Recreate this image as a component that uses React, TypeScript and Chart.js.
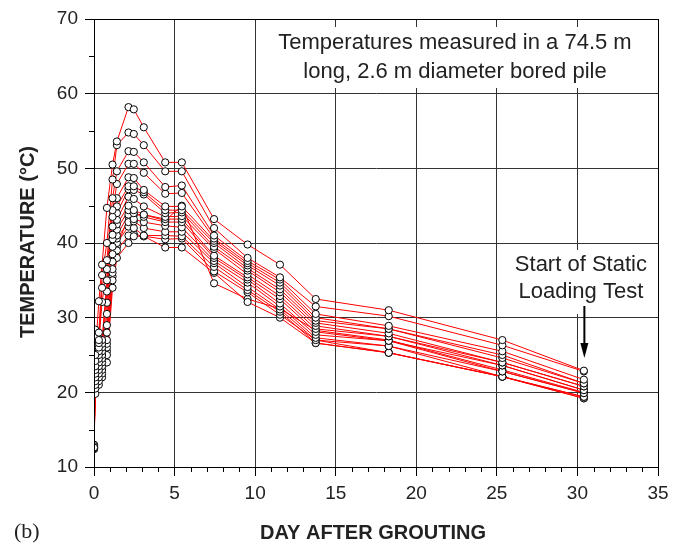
import React, { useEffect, useRef } from 'react';
import { Chart, registerables } from 'chart.js';

Chart.register(...registerables);

// Time of each reading (days after grouting)
const days = [0, 0.08, 0.3, 0.5, 0.8, 1.15, 1.42, 2.14, 2.47, 3.09, 4.42, 5.45, 7.45, 9.53, 11.54, 13.76, 18.29, 25.34, 30.4];

// Temperatures (°C) for each thermocouple level
const level01 = [12.6, 25.0, 32.2, 37.1, 44.7, 50.5, 53.6, 58.2, 57.9, 55.5, 50.8, 50.8, 43.2, 39.8, 37.1, 32.5, 31.0, 27.0, 22.9];
const level02 = [12.8, 24.2, 28.0, 35.7, 40.0, 48.5, 53.1, 54.8, 54.6, 53.1, 49.6, 49.6, 42.0, 38.0, 35.4, 31.5, 30.2, 26.3, 22.8];
const level03 = [12.5, 23.5, 27.0, 34.0, 37.7, 46.0, 49.6, 52.3, 52.2, 50.8, 47.5, 47.7, 41.0, 37.6, 35.1, 30.5, 28.9, 25.5, 21.7];
const level04 = [13.0, 28.4, 26.6, 32.1, 36.5, 44.4, 47.9, 50.6, 50.6, 49.4, 46.6, 46.7, 40.6, 37.3, 34.7, 30.0, 28.5, 25.0, 21.2];
const level05 = [12.4, 27.5, 26.0, 27.0, 35.0, 43.5, 46.0, 48.8, 48.7, 47.1, 44.9, 44.9, 40.3, 37.0, 34.3, 29.6, 28.5, 24.6, 21.2];
const level06 = [12.7, 26.5, 25.5, 26.5, 33.5, 42.2, 44.9, 47.6, 47.6, 46.8, 44.4, 44.4, 40.0, 36.6, 33.8, 29.3, 27.9, 24.0, 20.8];
const level07 = [12.9, 25.5, 25.0, 26.0, 32.0, 41.1, 44.0, 47.2, 47.1, 46.5, 44.0, 44.1, 39.5, 36.3, 33.4, 28.9, 27.5, 24.0, 20.8];
const level08 = [12.6, 24.8, 24.5, 25.5, 30.5, 40.5, 43.1, 46.2, 45.9, 44.9, 43.5, 43.6, 39.2, 35.8, 32.9, 28.5, 27.5, 23.6, 20.3];
const level09 = [12.5, 23.0, 24.0, 25.0, 29.0, 39.5, 42.5, 45.0, 44.4, 43.8, 43.2, 43.2, 38.3, 35.4, 32.5, 28.1, 26.9, 23.6, 20.3];
const level10 = [12.8, 22.5, 23.5, 24.5, 28.0, 38.5, 41.8, 44.4, 44.0, 43.5, 42.8, 42.8, 38.0, 35.1, 31.9, 27.7, 26.9, 22.8, 19.9];
const level11 = [12.4, 22.0, 23.0, 24.0, 27.0, 37.5, 41.0, 43.8, 43.2, 42.8, 42.3, 42.1, 37.6, 34.7, 31.5, 27.3, 26.2, 22.8, 19.9];
const level12 = [12.7, 21.5, 22.5, 23.5, 26.5, 36.5, 40.6, 42.8, 42.9, 42.0, 41.5, 41.5, 37.3, 34.1, 31.1, 27.0, 26.2, 22.1, 19.4];
const level13 = [12.6, 21.0, 22.0, 23.0, 26.0, 36.0, 40.0, 42.2, 42.0, 41.0, 41.0, 40.9, 36.8, 33.7, 30.8, 26.6, 25.3, 22.1, 19.4];
const level14 = [12.9, 20.5, 21.5, 22.5, 25.0, 35.0, 39.0, 41.0, 40.9, 40.9, 40.5, 40.6, 36.2, 33.4, 30.4, 27.0, 25.3, 22.1, 19.2];
const level15 = [12.5, 19.8, 21.0, 22.0, 24.0, 34.0, 38.0, 40.0, 41.2, 40.9, 39.4, 39.4, 36.0, 32.1, 30.0, 26.6, 25.3, 22.1, 19.2];
const level16 = [12.8, 24.0, 23.0, 24.0, 25.5, 35.5, 39.5, 43.5, 43.8, 43.8, 43.0, 45.0, 34.6, 32.5, 31.2, 28.3, 27.0, 23.0, 20.0];

const levels = [level01, level02, level03, level04, level05, level06, level07, level08,
  level09, level10, level11, level12, level13, level14, level15, level16];

const xMin = 0, xMax = 35, xStep = 5, xMinorStep = 1;
const yMin = 10, yMax = 70, yStep = 10, yMinorStep = 5;

const xTitle = 'DAY AFTER GROUTING';
const yTitle = 'TEMPERATURE (°C)';
const noteLines = ['Temperatures measured in a 74.5 m', 'long, 2.6 m diameter bored pile'];
const loadLines = ['Start of Static', 'Loading Test'];
const loadDay = 30.4;
const panelLabel = '(b)';

const SANS = '"Liberation Sans", Arial, sans-serif';
const SERIF = '"Liberation Serif", "Times New Roman", serif';
const TXT = '#222';

const overlay = {
  id: 'overlay',
  afterDraw(chart: any) {
    const ctx = chart.ctx as CanvasRenderingContext2D;
    const a = chart.chartArea;
    const xs = chart.scales.x;
    const ys = chart.scales.y;
    ctx.save();

    // minor ticks
    ctx.strokeStyle = '#000';
    ctx.lineWidth = 1;
    ctx.beginPath();
    for (let v = xMin; v <= xMax + 1e-9; v += xMinorStep) {
      if (Math.abs(v % xStep) < 1e-9) continue;
      const px = Math.round(xs.getPixelForValue(v)) + 0.5;
      ctx.moveTo(px, a.bottom);
      ctx.lineTo(px, a.bottom + 5);
    }
    for (let v = yMin; v <= yMax + 1e-9; v += yMinorStep) {
      if (Math.abs(v % yStep) < 1e-9) continue;
      const py = Math.round(ys.getPixelForValue(v)) + 0.5;
      ctx.moveTo(a.left - 5, py);
      ctx.lineTo(a.left, py);
    }
    ctx.stroke();

    // note box at top
    const nx0 = xs.getPixelForValue(10.4);
    const ny0 = a.top + 8;
    const ny1 = a.top + 69;
    ctx.fillStyle = '#fff';
    ctx.fillRect(nx0, ny0, a.right - nx0, ny1 - ny0);
    ctx.fillStyle = TXT;
    ctx.font = `22px ${SANS}`;
    ctx.textAlign = 'center';
    ctx.textBaseline = 'middle';
    const ncx = 455;
    ctx.fillText(noteLines[0], ncx, a.top + 24);
    ctx.fillText(noteLines[1], ncx, a.top + 53);

    // loading test label
    const lx = xs.getPixelForValue(loadDay);
    ctx.fillStyle = '#fff';
    ctx.fillRect(lx - 72, 250, 144, 64);
    ctx.fillStyle = TXT;
    ctx.fillText(loadLines[0], lx - 3, 265);
    ctx.fillText(loadLines[1], lx - 3, 292);

    // arrow
    ctx.strokeStyle = '#000';
    ctx.lineWidth = 2;
    ctx.beginPath();
    ctx.moveTo(lx + 0.5, 306);
    ctx.lineTo(lx + 0.5, 345);
    ctx.stroke();
    ctx.fillStyle = '#000';
    ctx.beginPath();
    ctx.moveTo(lx - 3.5, 343);
    ctx.lineTo(lx + 4.5, 343);
    ctx.lineTo(lx + 0.5, 358);
    ctx.closePath();
    ctx.fill();

    // frame
    ctx.strokeStyle = '#000';
    ctx.lineWidth = 1;
    ctx.strokeRect(Math.round(a.left) + 0.5, Math.round(a.top) + 0.5,
      Math.round(a.right - a.left), Math.round(a.bottom - a.top));

    // axis titles
    ctx.fillStyle = TXT;
    ctx.font = `bold 20px ${SANS}`;
    ctx.textAlign = 'center';
    ctx.textBaseline = 'middle';
    ctx.fillText(xTitle, 373, 533);
    ctx.save();
    ctx.translate(28, 242);
    ctx.rotate(-Math.PI / 2);
    ctx.fillText(yTitle, 0, 0);
    ctx.restore();

    ctx.font = `22px ${SERIF}`;
    ctx.textAlign = 'left';
    ctx.fillText(panelLabel, 14, 532);

    ctx.restore();
  },
};

export default function App() {
  const ref = useRef<HTMLCanvasElement | null>(null);
  useEffect(() => {
    if (!ref.current) return;
    const pointSets = levels.map((lv, i) => ({
      label: `L${i + 1}`,
      data: days.map((d, j) => ({ x: d, y: lv[j] })),
      showLine: false,
      pointRadius: 3.6,
      pointBorderWidth: 1,
      pointBackgroundColor: '#fff',
      pointBorderColor: '#000',
      order: 0,
    }));
    const lineSets = levels.map((lv, i) => ({
      label: `line${i + 1}`,
      data: days.map((d, j) => ({ x: d, y: lv[j] })),
      showLine: true,
      borderColor: '#ff0000',
      borderWidth: 1,
      pointRadius: 0,
      tension: 0,
      order: 1,
    }));
    const chart = new Chart(ref.current, {
      type: 'scatter',
      data: { datasets: [...pointSets, ...lineSets] as any },
      options: {
        animation: false,
        responsive: false,
        devicePixelRatio: 1,
        layout: { padding: { left: 0, right: 25, top: 19, bottom: 0 } },
        plugins: { legend: { display: false }, tooltip: { enabled: false } },
        scales: {
          x: {
            type: 'linear',
            min: xMin,
            max: xMax,
            afterFit: (s: any) => { s.height = 78; },
            ticks: { stepSize: xStep, font: { family: SANS, size: 19 }, color: TXT, padding: 6 },
            grid: { color: '#333', lineWidth: 1, tickLength: 9, tickColor: '#000' },
            border: { display: true, color: '#000' },
          },
          y: {
            type: 'linear',
            min: yMin,
            max: yMax,
            afterFit: (s: any) => { s.width = 94; },
            ticks: { stepSize: yStep, font: { family: SANS, size: 19 }, color: TXT, padding: 7 },
            grid: { color: '#333', lineWidth: 1, tickLength: 9, tickColor: '#000' },
            border: { display: true, color: '#000' },
          },
        },
      },
      plugins: [overlay],
    });
    return () => chart.destroy();
  }, []);
  return (
    <div style={{ position: 'absolute', left: 0, top: 0, width: 683, height: 545 }}>
      <canvas ref={ref} width={683} height={545} />
    </div>
  );
}
